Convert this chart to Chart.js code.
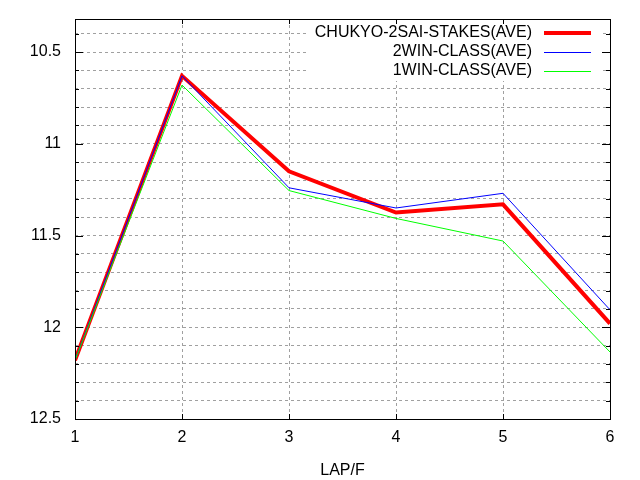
<!DOCTYPE html>
<html>
<head>
<meta charset="utf-8">
<script src="https://cdn.jsdelivr.net/npm/chart.js@4/dist/chart.umd.min.js"></script>
<style>
html,body{margin:0;padding:0;background:#fff;}
#wrap{width:640px;height:480px;}
</style>
</head>
<body>
<div id="wrap"><canvas id="c" width="640" height="480"></canvas></div>
<script>
const laps = [1, 2, 3, 4, 5, 6];
const stakesAve = [12.18, 10.63, 11.15, 11.375, 11.33, 11.98];
const win2Ave = [12.18, 10.63, 11.24, 11.35, 11.27, 11.905];
const win1Ave = [12.18, 10.68, 11.255, 11.407, 11.53, 12.135];
const seriesLabels = ['CHUKYO-2SAI-STAKES(AVE)', '2WIN-CLASS(AVE)', '1WIN-CLASS(AVE)'];
const xTitle = 'LAP/F';

const FONT = 'Liberation Sans, Arial, sans-serif';
const pts = arr => arr.map((v, i) => ({x: laps[i], y: v}));

const frame = {
  id: 'frame',
  beforeDatasetsDraw(chart) {
    const ctx = chart.ctx, a = chart.chartArea;
    ctx.save();
    ctx.fillStyle = '#fff';
    ctx.fillRect(306, Math.round(a.top) + 1, 294, 80 - Math.round(a.top));
    ctx.restore();
  },
  afterDatasetsDraw(chart) {
    const ctx = chart.ctx, a = chart.chartArea;
    const ys = chart.scales.y, xs = chart.scales.x;
    ctx.save();
    ctx.strokeStyle = '#000';
    ctx.lineWidth = 1;
    ctx.setLineDash([]);
    ctx.beginPath();
    ys.ticks.forEach(t => {
      const y = Math.round(ys.getPixelForValue(t.value)) + 0.5;
      const major = Math.round(t.value * 10) % 5 === 0;
      const L = major ? 8 : 4;
      ctx.moveTo(a.left, y); ctx.lineTo(a.left + L, y);
      ctx.moveTo(a.right, y); ctx.lineTo(a.right - L, y);
    });
    xs.ticks.forEach(t => {
      const x = Math.round(xs.getPixelForValue(t.value)) + 0.5;
      ctx.moveTo(x, a.bottom); ctx.lineTo(x, a.bottom - 5);
      ctx.moveTo(x, a.top); ctx.lineTo(x, a.top + 5);
    });
    ctx.stroke();
    ctx.strokeRect(Math.round(a.left) + 0.5, Math.round(a.top) + 0.5,
      Math.round(a.right - a.left), Math.round(a.bottom - a.top));
    // legend
    ctx.font = '16px ' + FONT;
    ctx.textAlign = 'right';
    ctx.textBaseline = 'middle';
    chart.data.datasets.forEach((ds, i) => {
      const yy = 33 + i * 19;
      ctx.fillStyle = '#000';
      ctx.fillText(ds.label, 532, yy);
      ctx.strokeStyle = ds.borderColor;
      ctx.lineWidth = ds.borderWidth;
      const off = ds.borderWidth % 2 ? 0.5 : 0;
      ctx.beginPath();
      ctx.moveTo(544, yy + off); ctx.lineTo(591, yy + off);
      ctx.stroke();
    });
    ctx.restore();
  }
};

new Chart(document.getElementById('c'), {
  type: 'line',
  data: {
    datasets: [
      {label: seriesLabels[0], data: pts(stakesAve), borderColor: '#ff0000', borderWidth: 4, order: 3},
      {label: seriesLabels[1], data: pts(win2Ave), borderColor: '#0000ff', borderWidth: 1, order: 2},
      {label: seriesLabels[2], data: pts(win1Ave), borderColor: '#00ff00', borderWidth: 1, order: 1}
    ]
  },
  options: {
    responsive: false,
    animation: false,
    devicePixelRatio: 1,
    layout: {padding: {left: 0, right: 30, top: 19, bottom: 0}},
    elements: {point: {radius: 0}, line: {tension: 0, fill: false, borderJoinStyle: 'miter'}},
    plugins: {legend: {display: false}, tooltip: {enabled: false}},
    scales: {
      x: {
        type: 'linear', min: 1, max: 6,
        afterBuildTicks: s => { s.ticks = laps.map(v => ({value: v})); },
        afterFit: s => { s.height = 61; },
        grid: {color: '#a0a0a0', lineWidth: 1, drawTicks: false},
        border: {display: false, dash: [3, 3]},
        ticks: {color: '#000', font: {size: 16, family: FONT}, padding: 9, autoSkip: false, maxRotation: 0},
        title: {display: true, text: xTitle, color: '#000', font: {size: 16, family: FONT}, padding: {top: 5, bottom: 0}}
      },
      y: {
        type: 'linear', reverse: true, min: 10.32, max: 12.5,
        afterBuildTicks: s => {
          const t = [];
          for (let k = 104; k <= 125; k++) t.push({value: k / 10});
          s.ticks = t;
        },
        afterFit: s => { s.width = 75; s.paddingTop = 0; s.paddingBottom = 0; },
        grid: {color: '#a0a0a0', lineWidth: 1, drawTicks: false},
        border: {display: false, dash: [3, 3]},
        ticks: {
          color: '#000', font: {size: 16, family: FONT}, padding: 14, autoSkip: false,
          callback: v => (Math.round(v * 10) % 5 === 0 ? String(Math.round(v * 10) / 10) : '')
        }
      }
    }
  },
  plugins: [frame]
});
</script>
</body>
</html>
